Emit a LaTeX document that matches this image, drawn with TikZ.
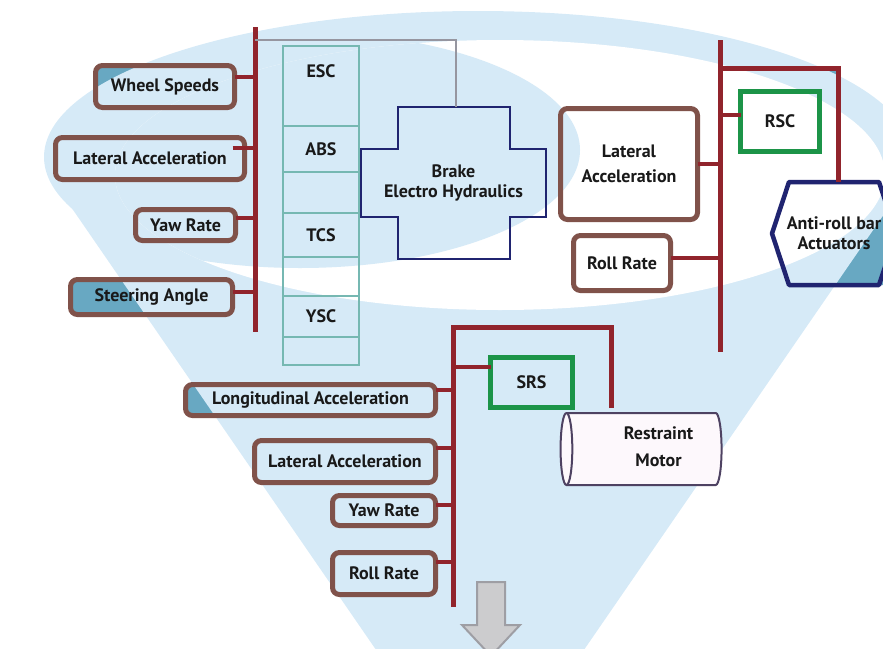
\documentclass[tikz,border=0pt]{standalone}
\usepackage{fontspec}
\setmainfont{PT Sans}
\usepackage{tikz}
\usetikzlibrary{positioning, calc, shapes.geometric}

\definecolor{busred}{RGB}{145,36,44}
\definecolor{sensbrown}{RGB}{128,82,74}
\definecolor{ctrlgreen}{RGB}{28,148,72}
\definecolor{actnavy}{RGB}{32,36,112}
\definecolor{celledge}{RGB}{118,184,178}
\definecolor{funnel}{RGB}{214,234,247}
\definecolor{tealpatch}{RGB}{104,168,194}
\definecolor{wiregray}{RGB}{150,150,160}
\definecolor{motoredge}{RGB}{78,66,98}
\definecolor{motorfill}{RGB}{253,248,252}
\definecolor{arrowgray}{RGB}{204,204,206}
\definecolor{arrowedge}{RGB}{158,158,164}

\pgfdeclarelayer{patch}
\pgfdeclarelayer{back}
\pgfsetlayers{patch,back,main}

\begin{document}
\begin{tikzpicture}[x=1pt, y=-1pt,
  every node/.style={font=\fontsize{18}{20}\selectfont\bfseries, text=black!90, inner sep=0pt, outer sep=0pt},
  sensor/.style={draw=sensbrown, line width=5pt, rounded corners=7pt, align=center},
  ctrl/.style={draw=ctrlgreen, line width=4.5pt},
  cell/.style={draw=celledge, line width=1.2pt, minimum width=76},
  bus/.style={draw=busred, line width=5pt},
  link/.style={draw=busred, line width=4pt},
  wire/.style={draw=wiregray, line width=1.2pt}
]
  \useasboundingbox (0,0) rectangle (883,648);

  % stability side: sensors on the left bus
  \node[sensor, minimum width=139, minimum height=42] (ws)    at (165,86.5)  {Wheel Speeds};
  \node[sensor, minimum width=189, minimum height=42] (latl)  at (150,158.5) {Lateral Acceleration};
  \node[sensor, minimum width=100, minimum height=31] (yawl)  at (185.5,225) {Yaw Rate};
  \node[sensor, minimum width=162, minimum height=35] (steer) at (151.5,297) {Steering Angle};

  % module column
  \node[cell, minimum height=80] (esc) at (321,86) {};
  \node[cell, minimum height=46, below=0pt of esc]  (abs)  {ABS};
  \node[cell, minimum height=41, below=0pt of abs]  (gap1) {};
  \node[cell, minimum height=44, below=0pt of gap1] (tcs)  {TCS};
  \node[cell, minimum height=39, below=0pt of tcs]  (gap2) {};
  \node[cell, minimum height=41, below=0pt of gap2] (ysc)  {YSC};
  \node[cell, minimum height=28, below=0pt of ysc]  (gap3) {};
  \node (esctext) at ([yshift=-25]esc.north) {ESC};

  % brake unit
  \node[align=center, minimum width=185, minimum height=152] (brake) at (453.5,183) {Brake\\Electro Hydraulics};
  \draw[actnavy, line width=2pt]
    ($(brake.north)+(-56,0)$) -- ($(brake.north)+(56,0)$) -- ($(brake.center)+(56,-34)$)
    -- ($(brake.east)+(0,-34)$) -- ($(brake.east)+(0,34)$) -- ($(brake.center)+(56,34)$)
    -- ($(brake.south)+(56,0)$) -- ($(brake.south)+(-56,0)$) -- ($(brake.center)+(-56,34)$)
    -- ($(brake.west)+(0,34)$) -- ($(brake.west)+(0,-34)$) -- ($(brake.center)+(-56,-34)$) -- cycle;

  % roll side
  \node[sensor, minimum width=137, minimum height=111] (latr)  at (629,164) {Lateral\\[5pt]Acceleration};
  \node[sensor, minimum width=97, minimum height=55]   (rollr) at (622,263) {Roll Rate};
  \node[ctrl, minimum width=79, minimum height=60]     (rsc)   at (780,121.5) {RSC};
  \node[align=center, minimum width=124, minimum height=103] (arb) at (834,233.5) {Anti-roll bar\\Actuators};
  \draw[actnavy, line width=4.5pt, line join=round]
    (arb.west) -- ([xshift=17]arb.north west) -- ([xshift=-17]arb.north east) -- (arb.east)
    -- ([xshift=-17]arb.south east) -- ([xshift=17]arb.south west) -- cycle;

  % restraint side
  \node[ctrl, minimum width=82, minimum height=50] (srs) at (531.5,382.5) {SRS};
  \node[sensor, minimum width=250, minimum height=31] (longb) at (310.5,400)   {Longitudinal Acceleration};
  \node[sensor, minimum width=181, minimum height=42] (latb)  at (345,461.5)   {Lateral Acceleration};
  \node[sensor, minimum width=103, minimum height=30] (yawb)  at (384,510.5)   {Yaw Rate};
  \node[sensor, minimum width=103, minimum height=42] (rollb) at (384,573.5)   {Roll Rate};
  \node[cylinder, shape border rotate=180, aspect=0.25, draw=motoredge, fill=motorfill, line width=2pt,
        minimum width=72, minimum height=161] (motor) at (644.5,449)
        {\hspace*{28pt}\begin{tabular}{@{}c@{}}Restraint\\[7pt]Motor\end{tabular}};

  % buses
  \coordinate (lbtop) at (255,27);
  \coordinate (lbbot) at (255,332);
  \coordinate (rbtop) at (720,40);
  \coordinate (rbbot) at (720,352);
  \coordinate (rbknee) at (838,68);
  \coordinate (bbtop) at (453,327);
  \coordinate (bbbot) at (453,607);
  \coordinate (bbknee) at (611,327);

  \draw[bus] (lbtop) -- (lbbot);
  \draw[link] ([yshift=9.5]ws.east) -- ([yshift=9.5]ws.east -| lbtop);
  \draw[link] ([xshift=-12,yshift=10.5]latl.east) -- ([yshift=10.5]latl.east -| lbtop);
  \draw[link] ([yshift=7]yawl.east) -- ([yshift=7]yawl.east -| lbtop);
  \draw[link] ([yshift=5]steer.east) -- ([yshift=5]steer.east -| lbtop);
  \draw[wire] ([yshift=-13]lbtop) -| ([xshift=2.5]brake.north);

  \draw[bus] (rbtop) -- (rbbot);
  \draw[bus] (rbtop |- rbknee) -- (rbknee) -- ([xshift=4]arb.north);
  \draw[link] ([yshift=6.5]rsc.west -| rbtop) -- ([yshift=6.5]rsc.west);
  \draw[link] (latr.east) -- (latr.east -| rbtop);
  \draw[link] ([yshift=5]rollr.east) -- ([yshift=5]rollr.east -| rbtop);

  \draw[bus] ([yshift=5]motor.north -| bbknee) -- (bbknee) -- (bbtop) -- (bbbot);
  \draw[link] ([yshift=15.5]srs.west -| bbtop) -- ([yshift=15.5]srs.west);
  \draw[link] ([yshift=10]longb.east) -- ([yshift=10]longb.east -| bbtop);
  \draw[link] ([yshift=14]latb.east) -- ([yshift=14]latb.east -| bbtop);
  \draw[link] ([yshift=5.5]yawb.east) -- ([yshift=5.5]yawb.east -| bbtop);
  \draw[link] ([yshift=11.5]rollb.east) -- ([yshift=11.5]rollb.east -| bbtop);

  % output arrow
  \fill[arrowgray, draw=arrowedge, line width=2pt]
    (477,582) -- (505,582) -- (505,625) -- (520,625) -- (491,656) -- (462,625) -- (477,625) -- cycle;

  % funnel backdrop
  \begin{pgfonlayer}{back}
    \fill[funnel] (478,157) ellipse [x radius=434, y radius=146];
    \fill[funnel] (49,175) -- (383,660) -- (577,660) -- (911,175) -- cycle;
    \fill[white] (500,175) ellipse [x radius=385, y radius=135];
    \begin{scope}
      \clip (500,175) ellipse [x radius=385, y radius=135];
      \fill[funnel] (300,150) ellipse [x radius=280, y radius=118];
    \end{scope}
  \end{pgfonlayer}

  % box areas outside the funnel
  \begin{pgfonlayer}{patch}
    \foreach \n in {ws,latl,yawl,steer,latr,rollr,longb,latb,yawb,rollb,arb}
      \fill[tealpatch, rounded corners=7pt] (\n.south west) rectangle (\n.north east);
    \fill[tealpatch] (rbtop |- rbknee) rectangle ([xshift=4]arb.north);
  \end{pgfonlayer}
\end{tikzpicture}
\end{document}
